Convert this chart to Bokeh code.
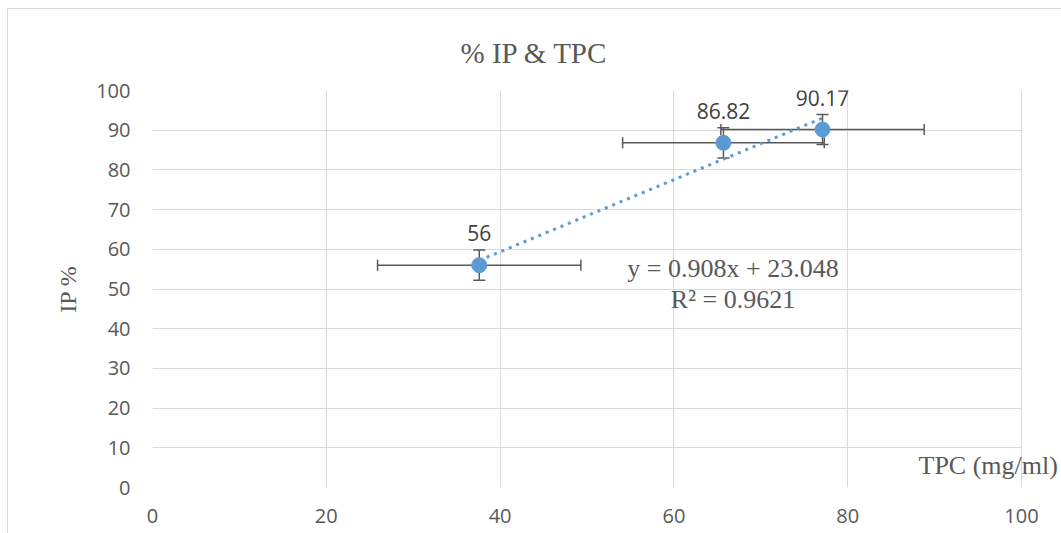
from bokeh.plotting import figure
from bokeh.models import ColumnDataSource, Whisker, TeeHead, LabelSet, Label, FixedTicker
from bokeh.core.properties import value
from bokeh.embed import file_html
from bokeh.resources import INLINE

# ---- data ----
tpc = [37.6, 65.7, 77.1]          # TPC (mg/ml)
ip = [56, 86.82, 90.17]           # IP %
tpc_err = [11.7, 11.6, 11.7]
ip_err = [3.8, 3.8, 3.8]
point_labels = ["56", "86.82", "90.17"]
slope = 0.908
intercept = 23.048
r2 = 0.9621
x_ticks = [0, 20, 40, 60, 80, 100]
y_ticks = [0, 10, 20, 30, 40, 50, 60, 70, 80, 90, 100]

SANS = "Open Sans"
SERIF = "Liberation Serif"
GRID = "#d9d9d9"
BLUE = "#5b9bd5"

src = ColumnDataSource(dict(
    x=tpc, y=ip, lab=point_labels,
    xl=[a - e for a, e in zip(tpc, tpc_err)], xu=[a + e for a, e in zip(tpc, tpc_err)],
    yl=[a - e for a, e in zip(ip, ip_err)], yu=[a + e for a, e in zip(ip, ip_err)],
))

# frame spans to the right window edge so the axis title can overhang the plot area
x_end = 100 * (1061 - 152) / 869.0
p = figure(width=1061, height=533, output_backend="svg", toolbar_location=None,
           x_range=(0, x_end), y_range=(0, 100),
           min_border_left=152, min_border_right=0, min_border_top=90, min_border_bottom=46)
p.border_fill_color = None
p.background_fill_color = "white"
p.outline_line_color = None
p.styles = {
    "background-image": "linear-gradient(#d9d9d9,#d9d9d9), linear-gradient(#d9d9d9,#d9d9d9)",
    "background-size": "1px 100%, 100% 1px",
    "background-position": "7px 8px, 7px 8px",
    "background-repeat": "no-repeat",
}

p.title.text = "% IP & TPC"
p.title.align = "left"
p.title.offset = 308
p.title.standoff = 44
p.title.text_font = SERIF
p.title.text_font_style = "normal"
p.title.text_font_size = "29px"
p.title.text_color = "#595959"

for ax in (p.xaxis[0], p.yaxis[0]):
    ax.axis_line_color = None
    ax.major_tick_line_color = None
    ax.minor_tick_line_color = None
    ax.major_tick_in = 0
    ax.major_tick_out = 0
    ax.major_label_text_font = SANS
    ax.major_label_text_font_size = "20px"
    ax.major_label_text_color = "#595959"

p.xaxis.ticker = FixedTicker(ticks=x_ticks)
p.yaxis.ticker = FixedTicker(ticks=y_ticks)
p.xaxis.major_label_standoff = 21
p.yaxis.major_label_standoff = 22
p.yaxis.axis_label = "IP %"
p.yaxis.axis_label_text_font = SERIF
p.yaxis.axis_label_text_font_style = "normal"
p.yaxis.axis_label_text_font_size = "24px"
p.yaxis.axis_label_text_color = "#595959"
p.yaxis.axis_label_standoff = 12

p.xgrid.ticker = FixedTicker(ticks=x_ticks)
p.ygrid.ticker = FixedTicker(ticks=y_ticks)
p.xgrid.grid_line_color = GRID
p.ygrid.grid_line_color = GRID
p.ygrid.cross_bounds = (0, 100)
p.xgrid.cross_bounds = (0, 100)

# error bars
p.add_layout(Whisker(source=src, base="y", lower="xl", upper="xu", dimension="width",
                     line_color="#595959", line_width=1.5,
                     lower_head=TeeHead(size=11, line_color="#595959", line_width=1.5),
                     upper_head=TeeHead(size=11, line_color="#595959", line_width=1.5)))
p.add_layout(Whisker(source=src, base="x", lower="yl", upper="yu", dimension="height",
                     line_color="#595959", line_width=1.5,
                     lower_head=TeeHead(size=12, line_color="#595959", line_width=1.5),
                     upper_head=TeeHead(size=12, line_color="#595959", line_width=1.5)))

# trendline
tx = [min(tpc), max(tpc)]
ty = [slope * v + intercept for v in tx]
p.line(tx, ty, line_color=BLUE, line_width=3, line_dash="3 5")

p.scatter("x", "y", source=src, size=15, fill_color=BLUE, line_color=BLUE)

p.add_layout(LabelSet(x="x", y="y", text="lab", source=src, y_offset=32,
                      text_align="center", text_baseline="middle",
                      text_font=value(SANS), text_font_size="21px", text_color="#404040"))

p.add_layout(Label(x=66.8, y=55.2, text=f"y = {slope}x + {intercept}", text_align="center",
                   text_baseline="middle", text_font=SERIF, text_font_size="26px",
                   text_color="#595959"))
p.add_layout(Label(x=66.8, y=47.3, text=f"R² = {r2}", text_align="center",
                   text_baseline="middle", text_font=SERIF, text_font_size="26px",
                   text_color="#595959"))
p.add_layout(Label(x=88.15, y=5.5, text="TPC (mg/ml)", text_align="left",
                   text_baseline="middle", text_font=SERIF, text_font_size="26px",
                   text_color="#595959"))

open("out.html", "w").write(file_html(p, INLINE))
